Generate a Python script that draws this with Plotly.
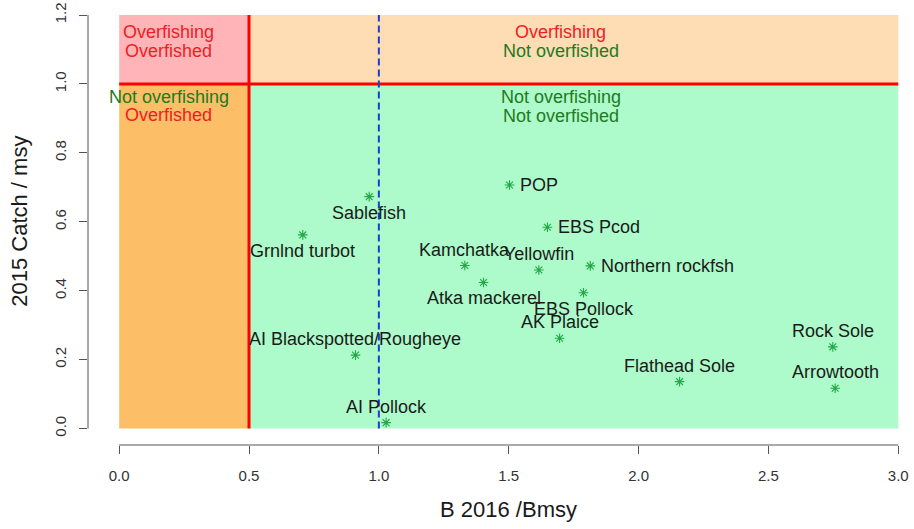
import plotly.graph_objects as go

# ---- data ----
stocks = ["Sablefish", "POP", "EBS Pcod", "Grnlnd turbot", "Kamchatka", "Yellowfin",
          "Northern rockfsh", "Atka mackerel", "EBS Pollock", "AK Plaice",
          "AI Blackspotted/Rougheye", "AI Pollock", "Flathead Sole", "Rock Sole", "Arrowtooth"]
b_ratio = [0.963, 1.503, 1.649, 0.707, 1.331, 1.616, 1.814, 1.403, 1.788, 1.696,
           0.910, 1.028, 2.158, 2.748, 2.757]
catch_ratio = [0.673, 0.707, 0.584, 0.562, 0.473, 0.460, 0.472, 0.424, 0.394, 0.262,
               0.213, 0.017, 0.136, 0.237, 0.117]
label_side = ["below", "right", "right", "below", "above", "above", "right", "below",
              "below", "above", "above", "above", "above", "above", "above"]

x_ticks = [0.0, 0.5, 1.0, 1.5, 2.0, 2.5, 3.0]
y_ticks = [0.0, 0.2, 0.4, 0.6, 0.8, 1.0, 1.2]

B_LIMIT = 0.5
B_TARGET = 1.0
F_LIMIT = 1.0
X_MAX = 3.0
Y_MAX = 1.2

FONT = "Liberation Sans, Arial, Helvetica, sans-serif"
RED_TXT = "#ee1c25"
GRN_TXT = "#1e7a1e"

fig = go.Figure()

# background zones
zones = [
    (0, F_LIMIT, B_LIMIT, Y_MAX, "#ffb5b8"),
    (B_LIMIT, F_LIMIT, X_MAX, Y_MAX, "#fedcb4"),
    (0, 0, B_LIMIT, F_LIMIT, "#fdbe68"),
    (B_LIMIT, 0, X_MAX, F_LIMIT, "#adfaca"),
]
for x0, y0, x1, y1, c in zones:
    fig.add_shape(type="rect", x0=x0, y0=y0, x1=x1, y1=y1, xref="x", yref="y",
                  fillcolor=c, line=dict(width=0), layer="below")

# reference lines
fig.add_shape(type="line", x0=B_LIMIT, x1=B_LIMIT, y0=0, y1=Y_MAX, xref="x", yref="y",
              line=dict(color="#ff0000", width=3))
fig.add_shape(type="line", x0=0, x1=X_MAX, y0=F_LIMIT, y1=F_LIMIT, xref="x", yref="y",
              line=dict(color="#ff0000", width=3))
fig.add_shape(type="line", x0=B_TARGET, x1=B_TARGET, y0=0, y1=Y_MAX, xref="x", yref="y",
              line=dict(color="#1a3fd0", width=2, dash="7px,4px"))

# detached axis lines (R style)
fig.add_shape(type="line", x0=0, x1=X_MAX, y0=0, y1=0, xref="x", yref="paper",
              line=dict(color="#555555", width=1))
fig.add_shape(type="line", x0=0, x1=0, y0=0, y1=Y_MAX, xref="paper", yref="y",
              line=dict(color="#555555", width=1))

# points
fig.add_trace(go.Scatter(
    x=b_ratio, y=catch_ratio, mode="markers",
    marker=dict(symbol="asterisk-open", size=8, color="#22a845",
                line=dict(color="#22a845", width=1.1)),
    hoverinfo="skip", showlegend=False))

# point labels
for name, xv, yv, side in zip(stocks, b_ratio, catch_ratio, label_side):
    kw = dict(x=xv, y=yv, xref="x", yref="y", text=name, showarrow=False,
              font=dict(family=FONT, size=18, color="#1a1a1a"))
    if side == "above":
        kw.update(xanchor="center", yanchor="middle", yshift=16)
    elif side == "below":
        kw.update(xanchor="center", yanchor="middle", yshift=-16)
    else:
        kw.update(xanchor="left", yanchor="middle", xshift=9)
    fig.add_annotation(**kw)

# quadrant labels
quad = [
    (0.19, 1.152, "Overfishing", RED_TXT),
    (0.19, 1.097, "Overfished", RED_TXT),
    (0.19, 0.963, "Not overfishing", GRN_TXT),
    (0.19, 0.909, "Overfished", RED_TXT),
    (1.70, 1.152, "Overfishing", RED_TXT),
    (1.70, 1.097, "Not overfished", GRN_TXT),
    (1.70, 0.962, "Not overfishing", GRN_TXT),
    (1.70, 0.907, "Not overfished", GRN_TXT),
]
for xv, yv, t, c in quad:
    fig.add_annotation(x=xv, y=yv, xref="x", yref="y", text=t, showarrow=False,
                       xanchor="center", yanchor="middle",
                       font=dict(family=FONT, size=18, color=c))

# axis titles
fig.add_annotation(x=1.5, y=0, xref="x", yref="paper", text="B 2016 /Bmsy",
                   showarrow=False, xanchor="center", yanchor="middle", yshift=-64,
                   font=dict(family=FONT, size=22, color="#1a1a1a"))
fig.add_annotation(x=0, y=0.6, xref="paper", yref="y", text="2015 Catch / msy",
                   showarrow=False, xanchor="center", yanchor="middle", xshift=-68,
                   textangle=-90, font=dict(family=FONT, size=22, color="#1a1a1a"))

fig.update_layout(
    width=914, height=529,
    margin=dict(l=88, r=0, t=0, b=84),
    paper_bgcolor="white", plot_bgcolor="white",
    showlegend=False,
    xaxis=dict(range=[-0.12, 3.0606], tickvals=x_ticks,
               ticktext=[f"{v:.1f}" for v in x_ticks],
               showgrid=False, zeroline=False, showline=False,
               ticks="outside", ticklen=8, tickcolor="#555555", tickwidth=1,
               ticklabelstandoff=9,
               tickfont=dict(family=FONT, size=15, color="#333333")),
    yaxis=dict(range=[-0.0479, 1.2438], tickvals=y_ticks,
               ticktext=[f"{v:.1f}" for v in y_ticks],
               showgrid=False, zeroline=False, showline=False,
               ticks="outside", ticklen=8, tickcolor="#555555", tickwidth=1,
               tickangle=-90, ticklabelstandoff=7,
               tickfont=dict(family=FONT, size=15, color="#333333")),
)

fig.write_html("out.html")
